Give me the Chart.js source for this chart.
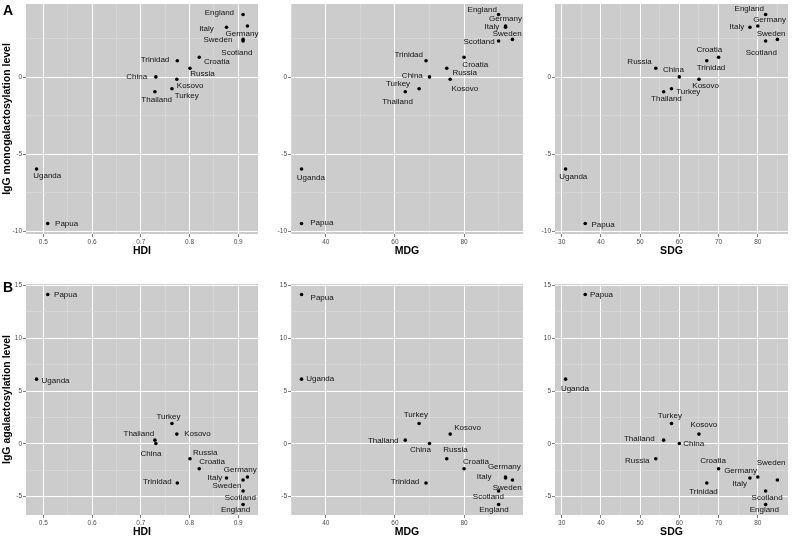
<!DOCTYPE html>
<html>
<head>
<meta charset="utf-8">
<script src="https://cdn.jsdelivr.net/npm/chart.js@4"></script>
<style>
  body { margin: 0; background: #fff; width: 792px; height: 541px; overflow: hidden; position: relative; }
  canvas { position: absolute; }
</style>
</head>
<body>
<canvas id="aHdi" width="262" height="262" style="left:0;top:0"></canvas>
<canvas id="aMdg" width="265" height="262" style="left:262px;top:0"></canvas>
<canvas id="aSdg" width="265" height="262" style="left:527px;top:0"></canvas>
<canvas id="bHdi" width="262" height="279" style="left:0;top:262px"></canvas>
<canvas id="bMdg" width="265" height="279" style="left:262px;top:262px"></canvas>
<canvas id="bSdg" width="265" height="279" style="left:527px;top:262px"></canvas>
<script>
// values
const countries = ['England', 'Germany', 'Italy', 'Sweden', 'Scotland', 'Croatia', 'Trinidad',
                   'Russia', 'China', 'Kosovo', 'Turkey', 'Thailand', 'Uganda', 'Papua'];
const hdi = [0.910, 0.919, 0.876, 0.910, 0.910, 0.820, 0.775, 0.801, 0.731, 0.774, 0.764, 0.729, 0.486, 0.509];
const mdg = [90, 92, 92, 94, 90, 80, 69, 75, 70, 76, 67, 63, 33, 33];
const sdg = [82, 80, 78, 85, 82, 70, 67, 54, 60, 65, 58, 56, 31, 36];
const monogal = [4.08, 3.33, 3.25, 2.46, 2.35, 1.30, 1.07, 0.58, 0.02, -0.13, -0.75, -0.94, -5.96, -9.51];
const agal = [-5.75, -3.14, -3.24, -3.43, -4.47, -2.36, -3.71, -1.42, 0.03, 0.92, 1.92, 0.35, 6.13, 14.15];

const hdiTicks = [0.5, 0.6, 0.7, 0.8, 0.9];
const mdgTicks = [40, 60, 80];
const sdgTicks = [30, 40, 50, 60, 70, 80];
const monogalTicks = [-10, -5, 0];
const agalTicks = [-5, 0, 5, 10, 15];

// label placement per panel: [dx, dy, align] in country order
const labelsAHdi = [[-9,-1.7,'r'],[-5.5,7.7,'c'],[-12.7,1.3,'r'],[-10.7,0.3,'r'],[-6.2,11.3,'c'],[4.7,5,'l'],[-8,-1,'r'],
                    [0.3,5.7,'l'],[-8.7,0,'r'],[0,6.7,'l'],[2.7,7.3,'l'],[1.8,7.7,'c'],[-3.3,7,'l'],[7.3,0,'l']];
const labelsAMdg = [[-1.7,-5,'r'],[0,-6.7,'c'],[-6.3,-0.7,'r'],[-5.3,-5.7,'c'],[-4,1,'r'],[-1.7,7.3,'l'],[-3,-6,'r'],
                    [5.7,4.7,'l'],[-6.7,-1,'r'],[1.3,9.3,'l'],[-9,-4.7,'r'],[-7.7,10.3,'c'],[-4.7,9,'l'],[8.7,-0.7,'l']];
const labelsASdg = [[-1.7,-5.7,'r'],[11.8,-6.3,'c'],[-5.7,-0.7,'r'],[-6.3,-6,'c'],[-4.3,11.7,'c'],[-9.3,-7.7,'c'],[4.2,7.3,'c'],
                    [-4,-7,'r'],[-5.8,-6.7,'c'],[6.7,6.3,'c'],[4.7,3,'l'],[2.8,6.7,'c'],[-6.3,7.7,'l'],[6.3,1,'l']];
const labelsBHdi = [[-7.5,5.3,'c'],[-7.2,-7.3,'c'],[-4.3,0,'r'],[-1.7,5.7,'r'],[-2.8,7,'c'],[0,-7,'l'],[-5.7,-0.7,'r'],
                    [3,-6.3,'l'],[-5,10.3,'c'],[7.3,0,'l'],[-3.5,-7,'c'],[-0.7,-6.3,'r'],[5,1.3,'l'],[6.3,0.3,'l']];
const labelsBMdg = [[-4.7,5,'c'],[-1.2,-10,'c'],[-14,-1,'r'],[-5.3,7.3,'c'],[-10.2,6.3,'c'],[-1,-7.3,'l'],[-6.7,-1,'r'],
                    [8.8,-8.7,'c'],[-9,6.7,'c'],[4,-6.3,'l'],[-3.3,-9,'c'],[-6.7,1,'r'],[4.7,0,'l'],[9,3.3,'l']];
const labelsBSdg = [[-1.3,5,'c'],[-17.2,-6,'c'],[-3,6,'r'],[-6.3,-17.3,'c'],[1.5,6.7,'c'],[-5.5,-7.7,'c'],[-3.3,9.3,'c'],
                    [-6.3,2,'r'],[4,0.3,'l'],[4.8,-9,'c'],[-1.7,-8,'c'],[-9,-1.7,'r'],[-4.7,9.7,'l'],[4.7,0,'l']];

const FONT = '"Liberation Sans", Arial, sans-serif';

// ggplot-like range: 5% padding each side
function expand(vals) {
    const lo = Math.min(...vals), hi = Math.max(...vals);
    const pad = (hi - lo) * 0.05;
    return [lo - pad, hi + pad];
}

function withMinor(ticks) {
    const step = ticks[1] - ticks[0];
    const out = [ticks[0] - step / 2];
    ticks.forEach(t => { out.push(t); out.push(t + step / 2); });
    return out;
}

function axis(vals, ticks, size, horizontal) {
    const [lo, hi] = expand(vals);
    const isMajor = v => ticks.some(t => Math.abs(t - v) < 1e-9);
    const tickMajor = c => c.tick && isMajor(c.tick.value);
    return {
        type: 'linear',
        min: lo,
        max: hi,
        afterBuildTicks(s) {
            s.ticks = withMinor(ticks).filter(v => v > lo && v < hi).map(v => ({ value: v }));
        },
        afterFit(s) {
            if (horizontal) s.height = size; else s.width = size;
            s.paddingTop = s.paddingBottom = s.paddingLeft = s.paddingRight = 0;
        },
        border: { display: false },
        grid: {
            color: c => tickMajor(c) ? '#ffffff' : '#dedede',
            lineWidth: c => tickMajor(c) ? 1 : 0.6,
            tickLength: 3,
            tickColor: c => tickMajor(c) ? '#7f7f7f' : 'rgba(0,0,0,0)'
        },
        ticks: {
            autoSkip: false,
            maxRotation: 0,
            padding: 1,
            color: '#4d4d4d',
            font: { size: 6.5, family: FONT },
            callback: v => isMajor(v) ? String(v) : ''
        }
    };
}

const panelDecor = {
    id: 'panelDecor',
    beforeDraw(chart) {
        const a = chart.chartArea, ctx = chart.ctx;
        ctx.save();
        ctx.fillStyle = '#cccccc';
        ctx.fillRect(a.left, a.top, a.right - a.left, a.bottom - a.top);
        ctx.restore();
    },
    afterDatasetsDraw(chart, args, opts) {
        const ctx = chart.ctx;
        const pts = chart.getDatasetMeta(0).data;
        ctx.save();
        ctx.fillStyle = '#111';
        ctx.font = '8px ' + FONT;
        ctx.textBaseline = 'middle';
        pts.forEach((p, i) => {
            const [dx, dy, al] = opts.labels[i];
            ctx.textAlign = al === 'r' ? 'right' : al === 'l' ? 'left' : 'center';
            ctx.fillText(countries[i], p.x + dx, p.y + dy);
        });
        ctx.restore();
    },
    afterDraw(chart, args, opts) {
        const a = chart.chartArea, ctx = chart.ctx;
        ctx.save();
        ctx.fillStyle = '#000';
        ctx.textAlign = 'center';
        ctx.textBaseline = 'middle';
        ctx.font = 'bold 10.5px ' + FONT;
        ctx.fillText(opts.xTitle, (a.left + a.right) / 2, a.bottom + 17.5);
        if (opts.yTitle) {
            ctx.save();
            ctx.translate(7, (a.top + a.bottom) / 2);
            ctx.rotate(-Math.PI / 2);
            ctx.fillText(opts.yTitle, 0, 0);
            ctx.restore();
        }
        if (opts.letter) {
            ctx.font = 'bold 14px ' + FONT;
            ctx.fillText(opts.letter, 8, opts.letterY);
        }
        ctx.restore();
    }
};

function makePanel(id, xVals, xTicks, yVals, yTicks, layout, deco) {
    new Chart(document.getElementById(id), {
        type: 'scatter',
        data: {
            datasets: [{
                data: xVals.map((x, i) => ({ x: x, y: yVals[i] })),
                pointRadius: 1.8,
                pointBackgroundColor: '#000',
                pointBorderWidth: 0
            }]
        },
        options: {
            responsive: false,
            animation: false,
            layout: { padding: { left: 0, top: layout.top, right: layout.right, bottom: 0 } },
            scales: {
                x: axis(xVals, xTicks, layout.xh, true),
                y: axis(yVals, yTicks, layout.yw, false)
            },
            plugins: {
                legend: { display: false },
                tooltip: { enabled: false },
                panelDecor: deco
            }
        },
        plugins: [panelDecor]
    });
}

const yTitleA = 'IgG monogalactosylation level';
const yTitleB = 'IgG agalactosylation level';

makePanel('aHdi', hdi, hdiTicks, monogal, monogalTicks, { top: 2, right: 2, xh: 28, yw: 26 },
          { labels: labelsAHdi, xTitle: 'HDI', yTitle: yTitleA, letter: 'A', letterY: 11.5 });
makePanel('aMdg', mdg, mdgTicks, monogal, monogalTicks, { top: 2, right: 2, xh: 28, yw: 29 },
          { labels: labelsAMdg, xTitle: 'MDG' });
makePanel('aSdg', sdg, sdgTicks, monogal, monogalTicks, { top: 2, right: 3, xh: 28, yw: 28 },
          { labels: labelsASdg, xTitle: 'SDG' });
makePanel('bHdi', hdi, hdiTicks, agal, agalTicks, { top: 22, right: 2, xh: 26, yw: 26 },
          { labels: labelsBHdi, xTitle: 'HDI', yTitle: yTitleB, letter: 'B', letterY: 26 });
makePanel('bMdg', mdg, mdgTicks, agal, agalTicks, { top: 22, right: 2, xh: 26, yw: 29 },
          { labels: labelsBMdg, xTitle: 'MDG' });
makePanel('bSdg', sdg, sdgTicks, agal, agalTicks, { top: 22, right: 3, xh: 26, yw: 28 },
          { labels: labelsBSdg, xTitle: 'SDG' });
</script>
</body>
</html>
